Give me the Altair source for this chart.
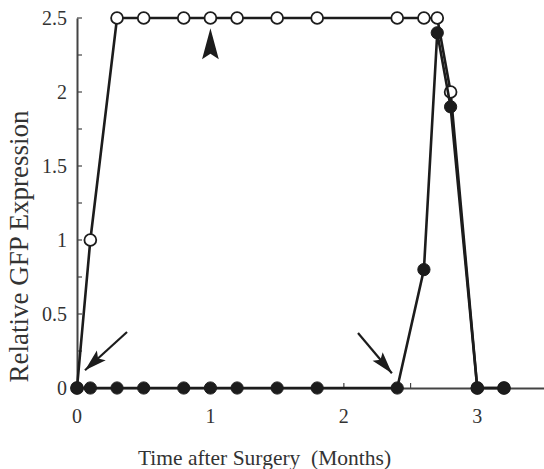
import altair as alt
import pandas as pd

# ---- data ----
months = [0, 0.1, 0.3, 0.5, 0.8, 1.0, 1.2, 1.5, 1.8, 2.4, 2.6, 2.7, 2.8, 3.0, 3.2]
open_gfp = [0, 1, 2.5, 2.5, 2.5, 2.5, 2.5, 2.5, 2.5, 2.5, 2.5, 2.5, 2.0, 0, 0]
filled_gfp = [0, 0, 0, 0, 0, 0, 0, 0, 0, 0, 0.8, 2.4, 1.9, 0, 0]

y_tick_values = [0, 0.5, 1, 1.5, 2, 2.5]
y_tick_text = ["0", "0.5", "1", "1.5", "2", "2.5"]
y_inner_ticks = [0.25, 0.5, 0.75, 1, 1.25, 1.5, 1.75, 2, 2.25, 2.5]
x_tick_values = [0, 1, 2, 3]
x_tick_text = ["0", "1", "2", "3"]
x_inner_ticks = [0.5, 1, 1.5, 2, 2.5, 3]

# annotation arrows (data coordinates)
arrow_x = [0.375, 2.106]
arrow_y = [0.378, 0.372]
arrow_tip_x = [0.06, 2.36]
arrow_tip_y = [0.12, 0.10]
arrow_angle = [227.8, 139.6]
head_x = [1.0]
head_y = [2.43]

INK = "#1c1c1c"
TXT = "#333333"
FONT = "Liberation Serif"
W, H = 467, 370

df_open = pd.DataFrame({"t": months, "v": open_gfp})
df_filled = pd.DataFrame({"t": months, "v": filled_gfp})
df_arrows = pd.DataFrame({"x": arrow_x, "y": arrow_y, "tx": arrow_tip_x,
                          "ty": arrow_tip_y, "ang": arrow_angle})
df_head = pd.DataFrame({"x": head_x, "y": head_y})
df_yt = pd.DataFrame({"v": y_inner_ticks})
df_xt = pd.DataFrame({"t": x_inner_ticks})
df_ylab = pd.DataFrame({"v": y_tick_values, "s": y_tick_text})
df_xlab = pd.DataFrame({"t": x_tick_values, "s": x_tick_text})

xscale = alt.Scale(domain=[0, 3.5], nice=False, zero=False)
yscale = alt.Scale(domain=[0, 2.5], nice=False)

x_axis = alt.Axis(
    values=x_tick_values, labels=False, grid=False, ticks=False, tickSize=0,
    domainColor="#444", domainWidth=2, title="Time after Surgery\u00a0 (Months)",
    titleFont=FONT, titleFontSize=21.5, titleFontWeight="normal", titleColor=TXT,
    titleX=187, titleY=76, titleAlign="center", titleBaseline="alphabetic",
)
y_axis = alt.Axis(
    values=y_tick_values, labels=False, grid=False, ticks=False, tickSize=0,
    domainColor="#444", domainWidth=2, title="Relative GFP Expression",
    titleFont=FONT, titleFontSize=27, titleFontWeight="normal", titleColor=TXT,
    titleX=-50, titleY=228, titleAngle=270, titleAlign="center",
    titleBaseline="alphabetic",
)

X = lambda f: alt.X(f, scale=xscale, axis=x_axis)
Y = lambda f: alt.Y(f, scale=yscale, axis=y_axis)

open_line = alt.Chart(df_open).mark_line(color=INK, strokeWidth=2.6).encode(
    x=X("t:Q"), y=Y("v:Q"))
open_pts = alt.Chart(df_open).mark_point(
    shape="circle", filled=True, fill="white", stroke=INK, strokeWidth=1.8,
    size=140, opacity=1,
).encode(x=X("t:Q"), y=Y("v:Q"))

filled_line = alt.Chart(df_filled).mark_line(color=INK, strokeWidth=2.6).encode(
    x=X("t:Q"), y=Y("v:Q"))
filled_pts = alt.Chart(df_filled).mark_point(
    shape="circle", filled=True, fill=INK, stroke=INK, strokeWidth=1,
    size=150, opacity=1,
).encode(x=X("t:Q"), y=Y("v:Q"))

y_ticks_in = alt.Chart(df_yt).mark_rule(color="#444", strokeWidth=1.2).encode(
    y=Y("v:Q"), x=alt.value(0), x2=alt.value(5))
x_ticks_in = alt.Chart(df_xt).mark_rule(color="#444", strokeWidth=1.2).encode(
    x=X("t:Q"), y=alt.value(H), y2=alt.value(H - 5))

y_labels = alt.Chart(df_ylab).mark_text(
    font=FONT, fontSize=20, color=TXT, align="right", baseline="alphabetic", dy=7
).encode(y=Y("v:Q"), x=alt.value(-10), text="s:N")
x_labels = alt.Chart(df_xlab).mark_text(
    font=FONT, fontSize=20, color=TXT, align="center", baseline="alphabetic"
).encode(x=X("t:Q"), y=alt.value(H + 35), text="s:N")

HEAD = "M0,0L0.3,1L0,0.8L-0.3,1Z"
shafts = alt.Chart(df_arrows).mark_rule(color=INK, strokeWidth=2.2).encode(
    x=X("x:Q"), y=Y("y:Q"), x2="tx:Q", y2="ty:Q")
heads = alt.Chart(df_arrows).mark_point(
    shape=HEAD, filled=True, fill=INK, strokeWidth=0, size=1936, opacity=1
).encode(x=X("tx:Q"), y=Y("ty:Q"), angle=alt.Angle("ang:Q", scale=None))
top_head = alt.Chart(df_head).mark_point(
    shape="M0,0L0.27,1L0,0.82L-0.27,1Z", filled=True, fill=INK, strokeWidth=0,
    size=3844, opacity=1,
).encode(x=X("x:Q"), y=Y("y:Q"))

chart = alt.layer(
    y_ticks_in, x_ticks_in, open_line, open_pts, filled_line, filled_pts,
    shafts, heads, top_head, y_labels, x_labels,
).properties(
    width=W, height=H,
    autosize=alt.AutoSizeParams(type="none"),
    padding={"left": 77, "top": 18, "right": 0, "bottom": 81},
).configure(
    background="white", font=FONT,
).configure_view(
    stroke=None
)

chart.save("out.html", embed_options={"renderer": "svg", "actions": False})
